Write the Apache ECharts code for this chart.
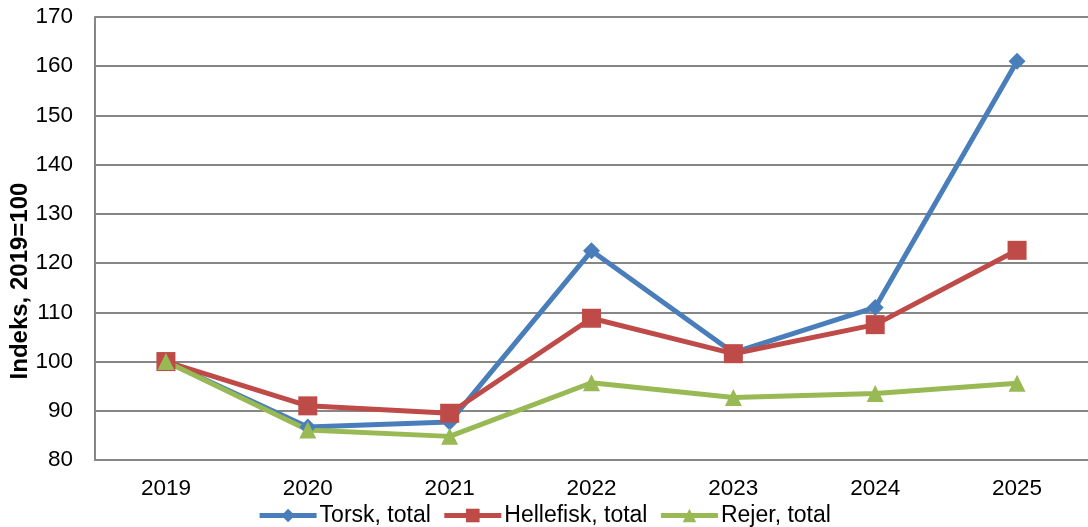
<!DOCTYPE html>
<html><head><meta charset="utf-8">
<script src="https://cdn.jsdelivr.net/npm/echarts@6/dist/echarts.min.js"></script>
<style>html,body{margin:0;padding:0;background:#fff}#c{width:1088px;height:527px}</style>
</head><body><div id="c"></div>
<script>
const categories = ['2019','2020','2021','2022','2023','2024','2025'];
const torsk = [100, 86.7, 87.7, 122.5, 101.8, 111.0, 161.0];
const hellefisk = [100, 91.0, 89.5, 108.8, 101.6, 107.5, 122.6];
const rejer = [100, 86.1, 84.8, 95.7, 92.7, 93.5, 95.6];
const seriesNames = ['Torsk, total','Hellefisk, total','Rejer, total'];
const yAxisName = 'Indeks, 2019=100';

const chart = echarts.init(document.getElementById('c'));
const font = 'Liberation Sans, Arial, sans-serif';
function s(name, data, color, symbol, size){
  return {name, type:'line', data, symbol, symbolSize:size, showSymbol:true,
    lineStyle:{color, width:5}, itemStyle:{color}, z: 2};
}
chart.setOption({
  animation:false,
  textStyle:{fontFamily:font},
  grid:{left:95, top:17, width:996, height:443, containLabel:false},
  legend:{top:499, left:'center', itemWidth:57, itemHeight:17, itemGap:11,
    lineStyle:{width:5},
    textStyle:{fontSize:23, color:'#000', fontFamily:font, padding:[0,0,0,-2]},
    data:seriesNames},
  graphic:[{type:'text', x:20, y:281, rotation:Math.PI/2,
    style:{text:yAxisName, font:'bold 24px Liberation Sans, Arial, sans-serif', fill:'#000',
      align:'center', verticalAlign:'middle'}}],
  xAxis:{type:'category', data:categories, boundaryGap:true,
    axisLine:{lineStyle:{color:'#868686', width:2}}, axisTick:{show:false},
    axisLabel:{fontSize:22.5, color:'#000', margin:17, fontFamily:font}},
  yAxis:{type:'value', min:80, max:170, interval:10,
    axisLine:{show:true, lineStyle:{color:'#868686', width:2}}, axisTick:{show:false},
    splitLine:{lineStyle:{color:'#868686', width:2}},
    axisLabel:{fontSize:22.5, color:'#000', margin:22, fontFamily:font}},
  series:[
    s(seriesNames[0], torsk, '#4a7ebb', 'diamond', 17),
    s(seriesNames[1], hellefisk, '#be4b48', 'rect', 19),
    s(seriesNames[2], rejer, '#98b954', 'triangle', 17)
  ]
});
</script></body></html>
